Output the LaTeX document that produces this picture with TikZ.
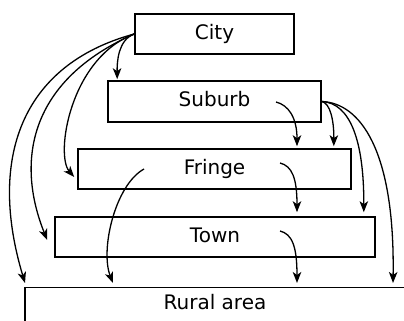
\documentclass[tikz,border=0pt]{standalone}
\usepackage{fontspec}
\setmainfont{DejaVu Sans}
\usetikzlibrary{arrows.meta,calc}
\begin{document}
\begin{tikzpicture}[x=1pt,y=-1pt,
  box/.style={draw,line width=1.6pt,rectangle,inner sep=0pt,
    font=\fontsize{20}{23}\selectfont,text height=14.5pt,text depth=4pt},
  lbl/.style={font=\fontsize{20}{23}\selectfont,inner sep=0pt},
  arr/.style={line width=1.3pt,-{Stealth[length=11pt,width=8.5pt,inset=3pt]}}]
\useasboundingbox (0,0) rectangle (404,321);
\clip (0,0) rectangle (404,321);
\node[box,minimum width=159pt,minimum height=40pt] (city) at (214.5,34) {City};
\node[box,minimum width=213pt,minimum height=41pt] (suburb) at (214.5,101.5) {Suburb};
\node[box,minimum width=273pt,minimum height=40pt] (fringe) at (214.5,169) {Fringe};
\node[box,minimum width=320pt,minimum height=40pt] (town) at (215,237) {Town};
\node[draw,line width=1.6pt,rectangle,inner sep=0pt,anchor=north west,
  minimum width=420pt,minimum height=60pt] (rural) at (24,286.5) {};
\node[lbl,anchor=base] (ruraltext) at (215,309.5) {Rural area};
% from City
\draw[arr] (city.west) .. controls (118,40) and (117,62) .. ($(suburb.north west)+(10,-1)$);
\draw[arr] (city.west) .. controls (70,58) and (55,155) .. ($(fringe.west)+(-3,8)$);
\draw[arr] (city.west) .. controls (30,80) and (15,160) .. ($(town.west)+(-7,3)$);
\draw[arr] (city.west) .. controls (20,65) and (-12,160) .. ($(rural.north west)+(1,-3.5)$);
% from Suburb
\draw[arr] (suburb.east) .. controls (330,103) and (334,120) .. ($(fringe.north east)+(-18,-2)$);
\draw[arr] (suburb.east) .. controls (350,103) and (364,140) .. ($(town.north east)+(-12,-4)$);
\draw[arr] (suburb.east) .. controls (360,103) and (395,150) .. ($(rural.north west)+(369,-3.5)$);
% inner arrows
\draw[arr] ($(suburb.center)+(61.5,0.5)$) .. controls (288,105) and (297,117) .. ($(fringe.north)+(82.5,-2)$);
\draw[arr] ($(fringe.center)+(65.5,-6)$) .. controls (292,166) and (297,178) .. ($(town.north)+(82,-4)$);
\draw[arr] ($(town.center)+(65,-6)$) .. controls (292,234) and (297,246) .. ($(rural.north west)+(273,-3.5)$);
\draw[arr] ($(fringe.center)+(-70.5,0)$) .. controls (115,185) and (100,250) .. ($(rural.north west)+(89,-3.5)$);
\end{tikzpicture}
\end{document}
